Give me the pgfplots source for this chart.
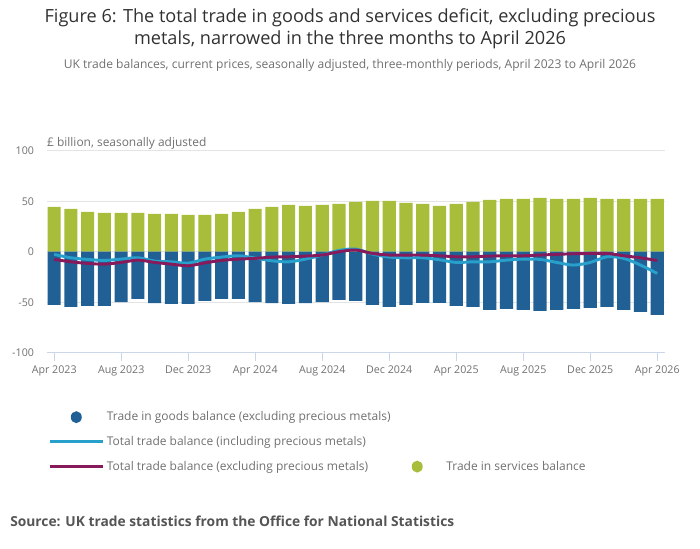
\documentclass[border=0pt]{standalone}
\usepackage{fontspec}
\setmainfont{Open Sans}
\usepackage{pgfplots}
\pgfplotsset{compat=1.18}
\usepackage{pgfplotstable}
\definecolor{goods}{HTML}{206095}
\definecolor{services}{HTML}{A8BD3A}
\definecolor{incl}{HTML}{27A0CC}
\definecolor{excl}{HTML}{871A5B}
\definecolor{gridgray}{HTML}{E4E4E4}
\definecolor{axisblue}{HTML}{CCD6EB}
\definecolor{labgray}{HTML}{707070}
\definecolor{titlegray}{HTML}{323132}
\definecolor{srcgray}{HTML}{555555}

\pgfplotstableread{
idx services goods incl excl
0  44.5 -52.6  -2.6  -7.6
1  42.5 -54.6  -6.0 -10.0
2  39.5 -53.6  -7.6 -11.6
3  38.5 -53.6  -8.6 -12.3
4  38.5 -50.0  -7.3 -10.6
5  38.5 -46.7  -6.0  -8.3
6  37.5 -51.0  -9.3 -10.6
7  37.5 -51.7 -10.0 -12.3
8  36.5 -51.7 -11.3 -13.9
9  36.5 -48.7  -7.3 -11.0
10 37.5 -46.7  -5.3  -8.6
11 39.5 -46.7  -4.0  -7.3
12 42.5 -50.0  -6.3  -6.6
13 44.5 -51.0  -9.0  -5.3
14 46.5 -51.7 -10.0  -5.0
15 45.5 -51.0  -7.3  -4.3
16 46.5 -50.0  -3.3  -3.3
17 47.5 -47.7   1.3   0.0
18 49.3 -48.7   2.6   1.7
19 50.3 -52.6  -2.3  -1.7
20 50.3 -54.6  -5.3  -3.3
21 48.3 -52.6  -6.0  -3.3
22 47.4 -50.7  -6.0  -3.3
23 45.4 -50.7  -8.0  -4.0
24 47.4 -53.6 -10.6  -5.0
25 49.3 -54.6 -10.0  -5.0
26 51.3 -57.6 -10.0  -4.3
27 52.3 -56.6  -8.3  -4.0
28 52.3 -57.6  -7.3  -4.0
29 53.3 -58.6  -7.6  -3.3
30 52.3 -57.6 -10.6  -2.6
31 52.3 -56.6 -13.2  -2.0
32 53.3 -55.6 -10.6  -1.7
33 52.3 -54.6  -5.0  -1.7
34 52.3 -57.6  -6.6  -4.0
35 52.3 -59.6 -13.2  -6.0
36 52.3 -62.6 -21.5  -8.7
}\datatable

\begin{document}
\begin{tikzpicture}
\useasboundingbox (0,0) rectangle (525pt,411.75pt);
% titles
\node[align=center, text=titlegray, font=\fontsize{13.6}{16.5}\selectfont] at (262.5pt,390pt)
  {Figure 6: The total trade in goods and services deficit, excluding precious\\metals, narrowed in the three months to April 2026};
\node[text=labgray, font=\fontsize{9.05}{10}\selectfont] at (262.5pt,363pt)
  {UK trade balances, current prices, seasonally adjusted, three-monthly periods, April 2023 to April 2026};
\node[anchor=west, text=labgray, inner sep=0pt, font=\fontsize{8.95}{10}\selectfont] at (35.2pt,304.5pt)
  {£ billion, seasonally adjusted};
\node[anchor=west, text=srcgray, inner sep=0pt, font=\fontsize{10.35}{12}\selectfont\bfseries] at (7.5pt,21pt)
  {Source: UK trade statistics from the Office for National Statistics};

\begin{axis}[
  at={(35pt,147.2pt)}, anchor=south west,
  scale only axis, width=463.7pt, height=151.5pt,
  xmin=-0.45, xmax=36.46, ymin=-100, ymax=100,
  axis x line*=bottom, axis y line*=left,
  x axis line style={draw=axisblue, line width=0.75pt, -},
  y axis line style={draw=none},
  xtick={0,4,...,36},
  xticklabels={Apr 2023,Aug 2023,Dec 2023,Apr 2024,Aug 2024,Dec 2024,Apr 2025,Aug 2025,Dec 2025,Apr 2026},
  ytick={-100,-50,0,50,100},
  xtick align=outside,
  major tick length=6pt,
  xtick style={draw=axisblue, line width=0.75pt},
  ytick style={draw=none},
  ymajorgrids, grid style={draw=gridgray, line width=0.75pt},
  /pgf/number format/assume math mode=true,
  ticklabel style={font=\fontsize{8}{9}\selectfont, text=labgray},
  yticklabel style={anchor=east, xshift=-6pt},
  legend columns=2,
  legend style={at={(axis description cs:0.002,-0.277)}, anchor=north west,
    draw=none, fill=none, inner sep=0pt, row sep=6.2pt,
    font=\fontsize{9}{10}\selectfont, text=labgray,
    /tikz/every odd column/.style={column sep=-0.2pt},
    /tikz/every even column/.style={column sep=-2pt},
    legend cell align=left},
]
\addplot[ybar, bar width=0.78, bar shift=0pt, fill=services, draw=none, forget plot] table[x=idx, y=services] {\datatable};
\addplot[ybar, bar width=0.78, bar shift=0pt, fill=goods, draw=none, forget plot] table[x=idx, y=goods] {\datatable};
\addplot[incl, line width=2.2pt, smooth, no marks, forget plot] table[x=idx, y=incl] {\datatable};
\addplot[excl, line width=2.2pt, smooth, no marks, forget plot] table[x=idx, y=excl] {\datatable};

\addlegendimage{legend image code/.code={\path[draw=none] (0pt,0pt) -- (40pt,0pt); \fill[goods, draw=none] (20pt,0pt) ellipse (4.1pt and 4.5pt);}}
\addlegendentry{Trade in goods balance (excluding precious metals)}
\addlegendimage{empty legend}
\addlegendentry{}
\addlegendimage{legend image code/.code={\draw[incl, line width=2.2pt] (0pt,0pt) -- (40pt,0pt);}}
\addlegendentry{Total trade balance (including precious metals)}
\addlegendimage{empty legend}
\addlegendentry{}
\addlegendimage{legend image code/.code={\draw[excl, line width=2.2pt] (0pt,0pt) -- (40pt,0pt);}}
\addlegendentry{Total trade balance (excluding precious metals)}
\addlegendimage{legend image code/.code={\path[draw=none] (0pt,0pt) -- (40pt,0pt); \fill[services, draw=none] (20pt,0pt) ellipse (4.1pt and 4.5pt);}}
\addlegendentry{Trade in services balance}
\end{axis}
\end{tikzpicture}
\end{document}
